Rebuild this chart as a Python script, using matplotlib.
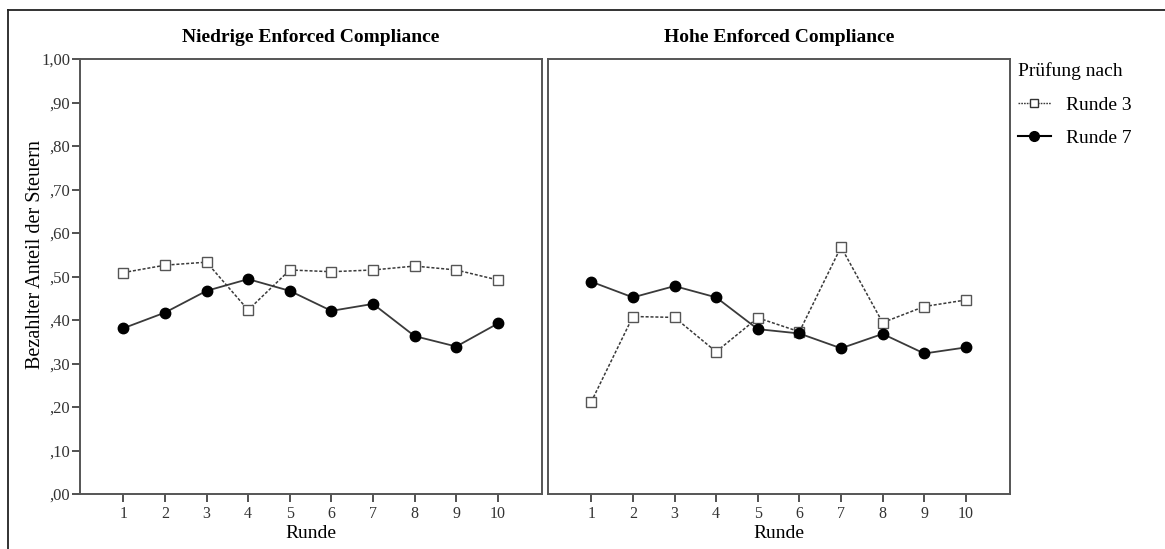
import numpy as np
import matplotlib.pyplot as plt
from matplotlib.lines import Line2D

runden = [1, 2, 3, 4, 5, 6, 7, 8, 9, 10]

niedrig_runde3 = [0.509, 0.526, 0.533, 0.423, 0.515, 0.511, 0.515, 0.524, 0.515, 0.492]
niedrig_runde7 = [0.381, 0.417, 0.467, 0.494, 0.467, 0.421, 0.437, 0.363, 0.339, 0.392]

hoch_runde3 = [0.212, 0.408, 0.406, 0.327, 0.405, 0.373, 0.568, 0.394, 0.431, 0.446]
hoch_runde7 = [0.488, 0.452, 0.478, 0.452, 0.379, 0.369, 0.335, 0.368, 0.323, 0.337]

titles = ["Niedrige Enforced Compliance", "Hohe Enforced Compliance"]
yticks = [0.0, 0.1, 0.2, 0.3, 0.4, 0.5, 0.6, 0.7, 0.8, 0.9, 1.0]
ytick_labels = [",00", ",10", ",20", ",30", ",40", ",50", ",60", ",70", ",80", ",90", "1,00"]

plt.rcParams['font.family'] = ['Liberation Serif', 'DejaVu Serif']

W, H = 1165, 549
fig = plt.figure(figsize=(W / 100, H / 100), dpi=100)

frame_col = '#555555'
line_col = '#3a3a3a'


def px_axes(x0, x1, ytop, ybot):
    return fig.add_axes([x0 / W, (H - ybot) / H, (x1 - x0) / W, (ybot - ytop) / H])


ax_l = px_axes(80, 542, 59, 494)
ax_r = px_axes(548, 1010, 59, 494)

for ax, title, r3, r7 in [(ax_l, titles[0], niedrig_runde3, niedrig_runde7),
                          (ax_r, titles[1], hoch_runde3, hoch_runde7)]:
    ax.plot(runden, r3, linestyle=(0, (2, 1.2)), color=line_col, linewidth=1.1,
            marker='s', markersize=7, markerfacecolor='white',
            markeredgecolor='#555555', markeredgewidth=1.0, zorder=3)
    ax.plot(runden, r7, linestyle='-', color=line_col, linewidth=1.3,
            marker='o', markersize=7.5, markerfacecolor='black',
            markeredgecolor='black', zorder=4)
    ax.set_xlim(-0.04, 11.06)
    ax.set_ylim(0, 1)
    ax.set_xticks(runden)
    ax.set_xticklabels([str(r) for r in runden], fontsize=11.5, color='#333333')
    ax.tick_params(axis='x', direction='out', length=6, width=1.2, color='#333333', pad=3)
    for s in ax.spines.values():
        s.set_color(frame_col)
        s.set_linewidth(1.4)
    ax.set_xlabel("Runde", fontsize=14, labelpad=2)
    ax.set_title(title, fontsize=14, fontweight='bold', pad=12)

ax_l.set_yticks(yticks)
ax_l.set_yticklabels(ytick_labels, fontsize=12, color='#333333')
ax_l.tick_params(axis='y', direction='out', length=6, width=1.2, color='#333333', pad=1)
ax_l.set_ylabel("Bezahlter Anteil der Steuern", fontsize=14.5)
ax_l.yaxis.set_label_coords(-0.075, 0.55)

ax_r.set_yticks([])

# legend to the right of the panels
handles = [Line2D([], [], linestyle=(0, (1.2, 0.8)), color=line_col, linewidth=1.0,
                  marker='s', markersize=5.5, markerfacecolor='white', markeredgecolor='#333333'),
           Line2D([], [], linestyle='-', color='black', linewidth=1.5,
                  marker='o', markersize=7, markerfacecolor='black')]
leg = fig.legend(handles, ["Runde 3", "Runde 7"], title="Prüfung nach",
                 loc='upper left', bbox_to_anchor=(1012 / W, 1 - 56 / H),
                 frameon=False, fontsize=14, title_fontsize=14,
                 handlelength=1.7, handletextpad=0.8, labelspacing=0.8,
                 borderaxespad=0, borderpad=0.3)
leg._legend_box.align = 'left'
leg._legend_box.sep = 12

# outer border lines (top and left)
fig.add_artist(Line2D([8 / W, 1.0], [1 - 10 / H, 1 - 10 / H], color='#222222', linewidth=1.3))
fig.add_artist(Line2D([8 / W, 8 / W], [0, 1 - 10 / H], color='#222222', linewidth=1.3))

plt.savefig('out.png', dpi=100)
plt.close()
